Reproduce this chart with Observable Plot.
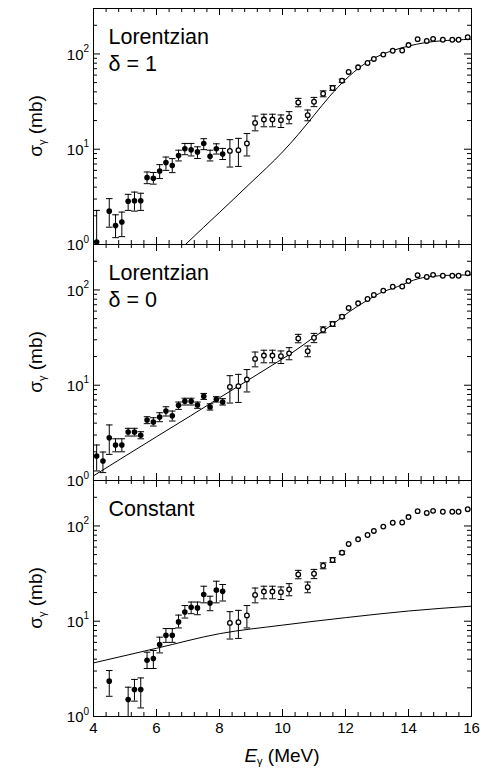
<!DOCTYPE html>
<html><head><meta charset="utf-8">
<script src="https://cdn.jsdelivr.net/npm/d3@7"></script>
<script src="https://cdn.jsdelivr.net/npm/@observablehq/plot@0.6"></script>
<style>
body{margin:0;background:#fff;font-family:"Liberation Sans",Arial,sans-serif;}
#chart{position:relative;width:483px;height:769px;overflow:hidden;background:#fff;}
</style></head><body><div id="chart"></div>
<script>
// ---------- data ----------
// photoneutron data (open circles), same in all panels
const openE  = [8.33,8.6,8.87,9.13,9.41,9.68,9.95,10.21,10.5,10.8,11.0,11.29,11.59,11.89,12.1,12.4,12.7,12.9,13.2,13.5,13.8,14.0,14.29,14.58,14.78,15.09,15.39,15.59,15.88];
const openV  = [9.6,9.77,11.5,18.9,20.5,20.5,20.2,21.6,31.0,22.8,31.5,38.2,43.9,52.4,64.7,72.4,80.4,88.6,98.4,108,108.7,124,143,137,144,141,141,141,150];
const openLo = [6.5,6.6,8.5,15.6,17.2,17.2,16.9,18.5,27.9,19.9,28,35.5,41.5,50.5,64.7,72.4,80.4,88.6,98.4,108,108.7,124,143,137,144,141,141,141,150];
const openHi = [12.6,13.0,14.6,22.3,23.3,23.3,22.9,24.8,34.2,25.8,35,41,46.5,54.5,64.7,72.4,80.4,88.6,98.4,108,108.7,124,143,137,144,141,141,141,150];

// Oslo data (filled circles), Lorentzian delta = 1
const lor1E  = [4.1,4.5,4.7,4.9,5.1,5.3,5.5,5.7,5.9,6.1,6.3,6.5,6.7,6.9,7.1,7.3,7.5,7.7,7.9,8.1];
const lor1V  = [1.06,2.24,1.58,1.72,2.84,2.88,2.88,5.03,4.95,5.91,7.24,6.73,8.58,10.1,9.85,9.37,11.5,8.45,10.1,8.92];
const lor1Lo = [0.5,1.52,1.18,1.21,2.28,2.24,2.28,4.35,4.3,4.92,6.0,5.68,7.53,8.76,8.5,8.0,9.9,7.53,8.9,7.8];
const lor1Hi = [2.28,3.03,2.05,2.19,3.36,3.55,3.45,5.77,5.7,6.89,8.28,7.97,9.77,11.5,11.5,10.6,12.9,9.77,11.4,10.2];

// Lorentzian delta = 0
const lor0E  = [4.1,4.3,4.5,4.7,4.9,5.1,5.3,5.5,5.7,5.9,6.1,6.3,6.5,6.7,6.9,7.1,7.3,7.5,7.7,7.9,8.1];
const lor0V  = [1.81,1.60,2.81,2.36,2.36,3.23,3.23,2.98,4.31,4.11,4.64,5.36,4.79,6.15,6.78,6.78,6.2,7.65,5.9,7.11,6.67];
const lor0Lo = [1.26,1.21,1.88,2.0,2.0,2.93,2.93,2.74,3.95,3.73,4.14,4.75,4.21,5.58,6.2,6.2,5.72,7.1,5.49,6.66,6.2];
const lor0Hi = [2.36,1.99,3.83,2.74,2.74,3.53,3.53,3.25,4.67,4.56,5.14,5.94,5.36,6.66,7.30,7.30,6.66,8.2,6.39,7.58,7.23];

// Constant
const constE  = [4.5,5.1,5.3,5.5,5.7,5.9,6.1,6.3,6.5,6.7,6.9,7.1,7.3,7.5,7.7,7.9,8.1];
const constV  = [2.35,1.51,1.92,1.92,3.9,4.06,5.7,7.13,7.13,9.84,12.5,14.0,13.8,19.1,15.5,21.2,20.6];
const constLo = [1.63,0.5,1.45,1.23,3.19,3.19,4.65,6.0,6.0,8.5,10.8,12.0,11.7,15.6,12.9,15.6,16.3];
const constHi = [3.04,2.03,2.45,2.54,4.73,4.93,6.8,8.37,8.37,11.6,14.6,15.9,15.9,23.3,18.3,26.3,24.3];

// model curves
const curve1E = [6.92,7.5,8.0,8.5,9.0,9.5,10.0,10.5,11.0,11.5,12.0,12.5,13.0,13.5,14.0,14.5,15.0,15.5,16.0];
const curve1V = [1.0,1.52,2.17,3.11,4.47,6.4,9.35,14.3,22.7,36.0,53.8,74.3,93.5,108.6,121,131,137,140,143];
const curve0E = [4.0,5.0,6.0,7.08,8.0,9.0,9.94,10.25,10.99,11.58,12.1,12.68,13.2,13.5,13.8,14.0,14.3,14.6,15.0,15.5,16.0];
const curve0V = [1.12,1.80,2.88,4.77,7.38,11.8,18.4,21.3,31.8,43.3,58.4,77.5,96,104,113,121,131,137,141,143,144];
const curveCE = [4,6,8,10,12,14,16];
const curveCV = [3.65,5.2,7.4,9.1,10.9,12.8,14.4];

// axes
const xTicks = [4,6,8,10,12,14,16];
const xTickLabels = ["4","6","8","10","12","14","16"];
const yTicks = [1,10,100];
const yTickBase = ["10","10","10"];
const yTickExp = ["0","1","2"];
const panelLabels = ["Lorentzian\nδ = 1", "Lorentzian\nδ = 0", "Constant"];

// ---------- layout ----------
const W = 483, ML = 93, MR = 12, PH = 236;
const PW = W - ML - MR;
const xMinor = d3.range(4, 16.001, 0.4).filter(v => !xTicks.some(t => Math.abs(t - v) < 1e-6));
const yMinor = [];
for (const d of [1, 10, 100]) for (let k = 2; k <= 9; k++) if (d * k <= 300) yMinor.push(d * k);

const rows = (E, V, Lo, Hi) => E.map((e, i) => ({E: e, v: V[i], lo: Lo[i], hi: Hi[i]}));
const crows = (E, V) => E.map((e, i) => ({E: e, v: V[i]}));
const openData = rows(openE, openV, openLo, openHi);
const capSymbol = {draw(ctx, size) { const r = Math.sqrt(size / Math.PI); ctx.moveTo(-r, 0); ctx.lineTo(r, 0); }};

function errMarks(data) {
  const bars = data.filter(d => d.hi > d.v * 1.03);
  return [
    Plot.ruleX(bars, {x: "E", y1: "lo", y2: "hi", stroke: "black", strokeWidth: 1, clip: true}),
    Plot.dot(bars, {x: "E", y: "hi", symbol: capSymbol, r: 3.3, stroke: "black", fill: "none", strokeWidth: 1}),
    Plot.dot(bars.filter(d => d.lo >= 1), {x: "E", y: "lo", symbol: capSymbol, r: 3.3, stroke: "black", fill: "none", strokeWidth: 1})
  ];
}

function panel(idx, filled, curve, top, mt, mb, showX) {
  const marks = [
    Plot.line(curve, {x: "E", y: "v", curve: "monotone-x", stroke: "black", strokeWidth: 1, clip: true}),
    ...errMarks(openData),
    ...errMarks(filled),
    Plot.dot(filled, {x: "E", y: "v", r: 2.8, fill: "black", stroke: "none"}),
    Plot.dot(openData, {x: "E", y: "v", r: 2.3, fill: "white", stroke: "black", strokeWidth: 1.3}),
    Plot.frame({stroke: "black", strokeWidth: 1}),
    Plot.tickX(xTicks, {x: d => d, insetTop: PH - 7, stroke: "black"}),
    Plot.tickX(xTicks, {x: d => d, insetBottom: PH - 7, stroke: "black"}),
    Plot.tickX(xMinor, {x: d => d, insetTop: PH - 4, stroke: "black"}),
    Plot.tickX(xMinor, {x: d => d, insetBottom: PH - 4, stroke: "black"}),
    Plot.tickY(yTicks, {y: d => d, insetRight: PW - 7, stroke: "black"}),
    Plot.tickY(yTicks, {y: d => d, insetLeft: PW - 7, stroke: "black"}),
    Plot.tickY(yMinor, {y: d => d, insetRight: PW - 4, stroke: "black"}),
    Plot.tickY(yMinor, {y: d => d, insetLeft: PW - 4, stroke: "black"}),
    Plot.text(yTicks, {y: d => d, frameAnchor: "left", text: (d, i) => yTickBase[i], textAnchor: "end", dx: -10, dy: 1, fontSize: 15}),
    Plot.text(yTicks, {y: d => d, frameAnchor: "left", text: (d, i) => yTickExp[i], textAnchor: "start", dx: -10, dy: -5, fontSize: 10}),
    Plot.text([panelLabels[idx]], {frameAnchor: "top-left", text: d => d, dx: 15, dy: 17, lineAnchor: "top", textAnchor: "start", fontSize: 21.5, lineHeight: 1.24})
  ];
  if (showX) marks.push(Plot.text(xTicks, {x: d => d, frameAnchor: "bottom", text: (d, i) => xTickLabels[i], lineAnchor: "top", dy: 6, fontSize: 15}));
  const svg = Plot.plot({
    width: W, height: mt + PH + mb,
    marginLeft: ML, marginRight: MR, marginTop: mt, marginBottom: mb,
    style: {fontFamily: "'Liberation Sans', Arial, sans-serif", color: "black", background: "transparent", overflow: "visible"},
    x: {domain: [4, 16], axis: null},
    y: {type: "log", domain: [1, 300], axis: null},
    marks
  });
  svg.style.position = "absolute";
  svg.style.left = "0px";
  svg.style.top = top + "px";
  svg.style.overflow = "visible";
  return svg;
}

const chart = document.getElementById("chart");
chart.appendChild(panel(0, rows(lor1E, lor1V, lor1Lo, lor1Hi), crows(curve1E, curve1V), 0, 8, 0, false));
chart.appendChild(panel(1, rows(lor0E, lor0V, lor0Lo, lor0Hi), crows(curve0E, curve0V), 244, 0, 0, false));
chart.appendChild(panel(2, rows(constE, constV, constLo, constHi), crows(curveCE, curveCV), 480, 0, 53, true));

// axis titles
const NS = "http://www.w3.org/2000/svg";
const ov = document.createElementNS(NS, "svg");
ov.setAttribute("width", W); ov.setAttribute("height", 769);
ov.style.position = "absolute"; ov.style.left = "0px"; ov.style.top = "0px"; ov.style.pointerEvents = "none";
ov.style.fontFamily = "'Liberation Sans', Arial, sans-serif";
let html = "";
for (const cy of [126, 362, 598]) {
  html += `<text transform="translate(42,${cy}) rotate(-90)" text-anchor="middle" font-size="19" fill="black">σ<tspan font-size="11" dy="4">γ</tspan><tspan dy="-4"> (mb)</tspan></text>`;
}
html += `<text x="282" y="762" text-anchor="middle" font-size="19" fill="black"><tspan font-style="italic">E</tspan><tspan font-size="11" dy="3">γ</tspan><tspan dy="-3"> (MeV)</tspan></text>`;
ov.innerHTML = html;
chart.appendChild(ov);
</script>
</body></html>
